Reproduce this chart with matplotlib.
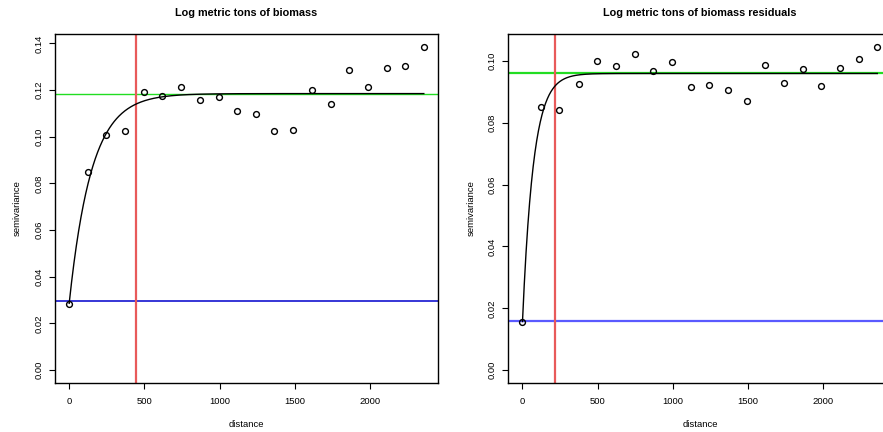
import numpy as np
import matplotlib
matplotlib.use("Agg")
import matplotlib.pyplot as plt

plt.rcParams['font.family'] = ['Liberation Sans', 'DejaVu Sans']

# ---- data: left panel ----
dist_left = [0, 124, 248, 372, 497, 620, 745, 869, 993, 1117,
             1241, 1365, 1489, 1614, 1738, 1862, 1986, 2110, 2234, 2358]
semi_left = [0.0283, 0.0848, 0.1006, 0.1025, 0.1191, 0.1173, 0.1212, 0.1159,
             0.1169, 0.1109, 0.1096, 0.1024, 0.1028, 0.1199, 0.1139, 0.1286,
             0.1215, 0.1293, 0.1302, 0.1385]
sill_left = 0.1185
nugget_left = 0.0295
curve_start_left = 0.0286
range_left = 445

# ---- data: right panel ----
dist_right = [0, 126, 244, 375, 498, 622, 746, 870, 994, 1118,
              1242, 1366, 1490, 1614, 1738, 1862, 1986, 2110, 2234, 2358]
semi_right = [0.0156, 0.0851, 0.0842, 0.0926, 0.1002, 0.0985, 0.1023, 0.0969,
              0.0997, 0.0915, 0.0923, 0.0905, 0.0871, 0.0987, 0.0928, 0.0976,
              0.0919, 0.0978, 0.1006, 0.1046]
sill_right = 0.0960
nugget_right = 0.0160
curve_start_right = 0.0157
range_right = 217

titles = ["Log metric tons of biomass", "Log metric tons of biomass residuals"]
yticks_left = [0.00, 0.02, 0.04, 0.06, 0.08, 0.10, 0.12, 0.14]
yticks_right = [0.00, 0.02, 0.04, 0.06, 0.08, 0.10]
xticks = [0, 500, 1000, 1500, 2000]

W, H = 883, 432
fig = plt.figure(figsize=(W / 100, H / 100), dpi=100)


def make_ax(x0, x1, y0, y1):
    return fig.add_axes([x0 / W, 1 - y1 / H, (x1 - x0) / W, (y1 - y0) / H])


panels = [
    (make_ax(55, 438, 34, 383), dist_left, semi_left, sill_left, nugget_left,
     curve_start_left, range_left, yticks_left, titles[0],
     '#0000CC', 1.1, 1.0),
    (make_ax(508.3, 891.5, 34, 383), dist_right, semi_right, sill_right,
     nugget_right, curve_start_right, range_right, yticks_right, titles[1],
     '#5a5aff', 1.6, 1.6),
]

for (ax, d, s, sill, nug, c0, rng, yt, title, bcol, blw, glw) in panels:
    d = np.asarray(d, float)
    s = np.asarray(s, float)
    xmin, xmax = 0.0, d.max()
    pad = 0.04 * (xmax - xmin)
    ax.set_xlim(xmin - pad, xmax + pad)
    ymin, ymax = 0.0, s.max()
    ypad = 0.04 * (ymax - ymin)
    ax.set_ylim(ymin - ypad, ymax + ypad)

    h = np.linspace(0, xmax, 600)
    model = c0 + (sill - c0) * (1 - np.exp(-3 * h / rng))

    ax.axhline(sill, color='#22dd22', lw=glw, zorder=2)
    ax.axhline(nug, color=bcol, lw=blw, zorder=2)
    ax.axvline(rng, color='#e85a5a', lw=1.6, zorder=2)
    ax.plot(h, model, color='black', lw=1.0, zorder=3)
    ax.plot(d, s, linestyle='none', marker='o', markersize=4.2,
            markerfacecolor='none', markeredgecolor='black',
            markeredgewidth=1.0, zorder=4)

    ax.set_xticks(xticks)
    ax.set_xticklabels([str(t) for t in xticks])
    ax.set_yticks(yt)
    ax.set_yticklabels(["%.2f" % t for t in yt], rotation=90, va='center')
    ax.tick_params(axis='both', direction='out', length=4.3, width=0.8,
                   labelsize=6.8, colors='black')
    ax.tick_params(axis='x', pad=6)
    ax.tick_params(axis='y', pad=4)
    for sp in ax.spines.values():
        sp.set_linewidth(1.0)
        sp.set_color('black')
    ax.set_xlabel('distance', fontsize=6.8, labelpad=10)
    ax.set_ylabel('semivariance', fontsize=6.8, labelpad=9)
    ax.set_title(title, fontsize=7.8, fontweight='bold', pad=13)

fig.savefig('out.png', dpi=100)
